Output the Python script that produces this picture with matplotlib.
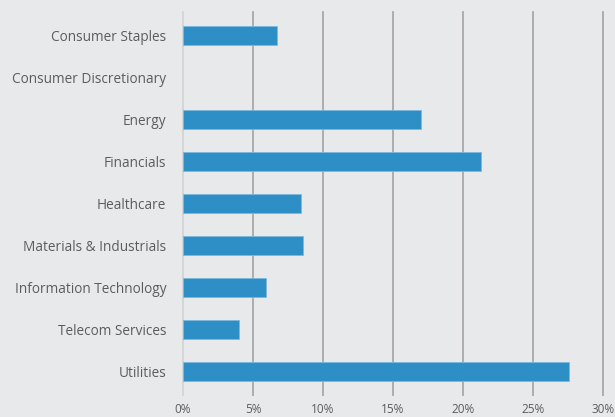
import matplotlib.pyplot as plt
import numpy as np

sectors = [
    'Consumer Staples',
    'Consumer Discretionary',
    'Energy',
    'Financials',
    'Healthcare',
    'Materials & Industrials',
    'Information Technology',
    'Telecom Services',
    'Utilities',
]
weights = [6.7, 0.0, 17.0, 21.3, 8.4, 8.6, 5.9, 4.0, 27.6]
x_ticks = [0, 5, 10, 15, 20, 25, 30]

BG = '#e8e9eb'
BAR = '#2e8fc7'
TXT = '#5c5c5c'

plt.rcParams['font.family'] = ['Open Sans', 'DejaVu Sans']

fig = plt.figure(figsize=(6.15, 4.17), dpi=100, facecolor=BG)
ax = fig.add_axes([183 / 615, 22 / 417, 420 / 615, 383 / 417], facecolor=BG)

y = np.arange(len(sectors))
ax.barh(y, weights, height=0.45, color=BAR, edgecolor='#7fb8dd',
        linewidth=[0.6 if w > 0 else 0 for w in weights], zorder=3)

ax.set_xlim(0, 30)
ax.set_ylim(len(sectors) - 0.43, -0.55)
ax.set_yticks(y)
ax.set_yticklabels(sectors)
ax.set_xticks(x_ticks)
ax.set_xticklabels([f'{t}%' for t in x_ticks])

for t in x_ticks:
    c = '#d4d4d6' if t == 0 else '#a9a7a8'
    ax.axvline(t, color=c, linewidth=1.3, zorder=1, clip_on=False)

ax.tick_params(axis='both', length=0, colors=TXT, labelsize=9.8)
ax.tick_params(axis='y', pad=12)
ax.tick_params(axis='x', pad=6, labelsize=8.5)
for spine in ax.spines.values():
    spine.set_visible(False)

fig.savefig('out.png', dpi=100, facecolor=BG)
